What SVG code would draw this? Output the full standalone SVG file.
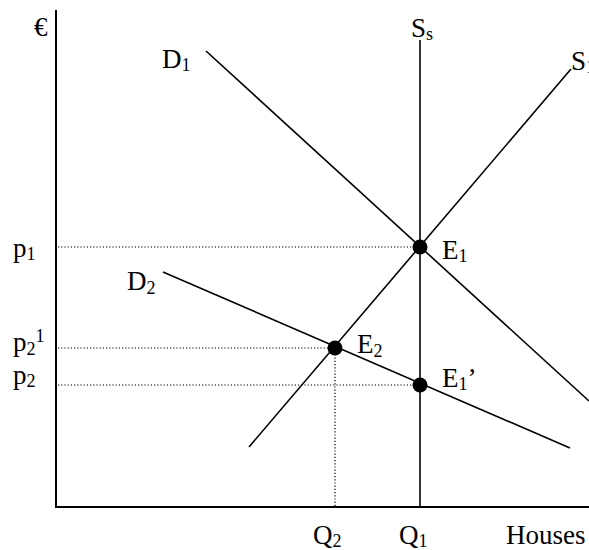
<svg xmlns="http://www.w3.org/2000/svg" width="589" height="550" viewBox="0 0 589 550">
<style>
.ax{stroke:#000;stroke-width:2;fill:none}
.ln{stroke:#000;stroke-width:1.6;fill:none}
.dt{stroke:#000;stroke-width:1.2;stroke-dasharray:1.2 2;fill:none}
.pt{fill:#000}
text{font-family:"Liberation Serif","Times New Roman",serif;font-size:27px;fill:#000}
.s{font-size:18px}
</style>
<rect width="589" height="550" fill="#fff"/>
<g id="axes">
<line class="ax" x1="56" y1="10" x2="56" y2="507"/>
<line class="ax" x1="55" y1="507" x2="589" y2="507"/>
<text x="34" y="36">€</text>
<text x="506" y="544">Houses</text>
</g>
<g id="connectors">
<line class="dt" x1="58" y1="247" x2="420" y2="247"/>
<line class="dt" x1="58" y1="348" x2="335" y2="348"/>
<line class="dt" x1="58" y1="385" x2="420" y2="385"/>
<line class="dt" x1="335" y1="348" x2="335" y2="506"/>
<line class="ln" x1="420" y1="40" x2="420" y2="507"/>
<line class="ln" x1="249" y1="447" x2="571" y2="69"/>
<line class="ln" x1="206" y1="51" x2="589" y2="401"/>
<line class="ln" x1="163" y1="272" x2="570" y2="448"/>
</g>
<g id="Ss"><text x="411" y="37">S<tspan class="s" dy="3">s</tspan></text></g>
<g id="S1"><text x="571" y="70">S<tspan class="s" dy="3">1</tspan></text></g>
<g id="D1"><text x="162" y="68">D<tspan class="s" dy="3">1</tspan></text></g>
<g id="D2"><text x="127" y="290">D<tspan class="s" dy="4">2</tspan></text></g>
<g id="p1"><text x="13" y="257">p<tspan class="s" dy="3">1</tspan></text></g>
<g id="p21"><text x="13" y="351">p<tspan class="s" dy="4">2</tspan><tspan class="s" dy="-13">1</tspan></text></g>
<g id="p2"><text x="13" y="384">p<tspan class="s" dy="3">2</tspan></text></g>
<g id="E1"><circle class="pt" cx="420" cy="247" r="7.5"/><text x="442" y="259">E<tspan class="s" dy="3">1</tspan></text></g>
<g id="E2"><circle class="pt" cx="335" cy="348" r="7.5"/><text x="357" y="353">E<tspan class="s" dy="4">2</tspan></text></g>
<g id="E1p"><circle class="pt" cx="420" cy="385" r="7.5"/><text x="442" y="387">E<tspan class="s" dy="3">1</tspan><tspan dy="-3">’</tspan></text></g>
<g id="Q2"><text x="313" y="544">Q<tspan class="s" dy="3">2</tspan></text></g>
<g id="Q1"><text x="399" y="544">Q<tspan class="s" dy="3">1</tspan></text></g>
</svg>
